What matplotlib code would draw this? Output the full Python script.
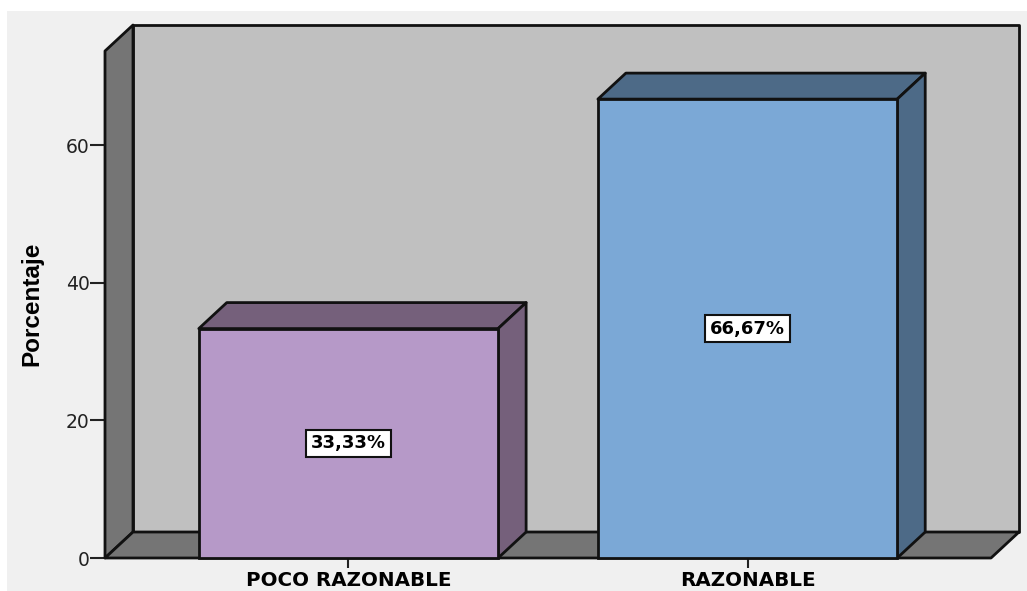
import matplotlib
matplotlib.use('Agg')
from matplotlib import pyplot as plt
from matplotlib.patches import Polygon, Rectangle

W, H = 1027, 591

categories = ['POCO RAZONABLE', 'RAZONABLE']
values = [33.33, 66.67]
labels = ['33,33%', '66,67%']
y_ticks = [0, 20, 40, 60]
y_max = 73.66

face_colors = ['#b699c8', '#7ba8d6']
top_colors = ['#75607b', '#4d6a87']
side_colors = ['#75607b', '#4d6a87']
EDGE = '#111111'
DX, DY = 28 / 399, 26 / 6.883
X0, X1 = -0.61, 1.61
BAR_W = 0.75


def poly(ax, pts, color, z):
    ax.add_patch(Polygon(pts, closed=True, facecolor=color, edgecolor=EDGE,
                         linewidth=2, joinstyle='round', clip_on=False, zorder=z))


fig = plt.figure(figsize=(W / 100, H / 100), dpi=100, facecolor='white')
fig.add_artist(Rectangle((7 / W, 0), 1 - 7 / W, 1 - 11 / H, transform=fig.transFigure,
                         facecolor='#f0f0f0', edgecolor='none', zorder=-1))

ax = fig.add_axes([105 / W, 1 - 558 / H, (991 - 105) / W, (558 - 51) / H])
ax.patch.set_visible(False)
ax.set_xlim(X0, X1)
ax.set_ylim(0, y_max)

# chart box: back wall, left wall, floor
poly(ax, [(X0 + DX, DY), (X1 + DX, DY), (X1 + DX, y_max + DY), (X0 + DX, y_max + DY)], '#c0c0c0', 1)
poly(ax, [(X0, 0), (X0 + DX, DY), (X0 + DX, y_max + DY), (X0, y_max)], '#757575', 2)
poly(ax, [(X0, 0), (X1, 0), (X1 + DX, DY), (X0 + DX, DY)], '#757575', 2)

for i, val in enumerate(values):
    l, r = i - BAR_W / 2, i + BAR_W / 2
    poly(ax, [(l, val), (r, val), (r + DX, val + DY), (l + DX, val + DY)], top_colors[i], 3)
    poly(ax, [(r, 0), (r + DX, DY), (r + DX, val + DY), (r, val)], side_colors[i], 3)
    ax.bar(i, val, width=BAR_W, color=face_colors[i], edgecolor=EDGE, linewidth=2,
           zorder=4, clip_on=False)
    ax.text(i, val / 2, labels[i], ha='center', va='center', fontsize=13,
            fontweight='bold', family='DejaVu Sans', color='black', zorder=5,
            bbox=dict(boxstyle='square,pad=0.255', facecolor='white', edgecolor=EDGE, linewidth=1.5))

for side in ax.spines.values():
    side.set_visible(False)

ax.set_yticks(y_ticks)
ax.set_xticks(range(len(categories)), categories)
ax.tick_params(axis='y', length=11, width=1.5, color='#222222', pad=0, labelsize=13.5,
               labelcolor='#222222')
ax.tick_params(axis='x', length=7, width=1.5, color='#222222', pad=2, labelsize=14.3)
for t in ax.get_xticklabels():
    t.set_fontweight('bold')
    t.set_family('DejaVu Sans')
for t in ax.get_yticklabels():
    t.set_family('DejaVu Sans')

fig.text(32 / W, 1 - 304 / H, 'Porcentaje', rotation=90, ha='center', va='center',
         fontsize=17.5, fontweight='bold', family='Liberation Sans')

fig.savefig('out.png', dpi=100)
